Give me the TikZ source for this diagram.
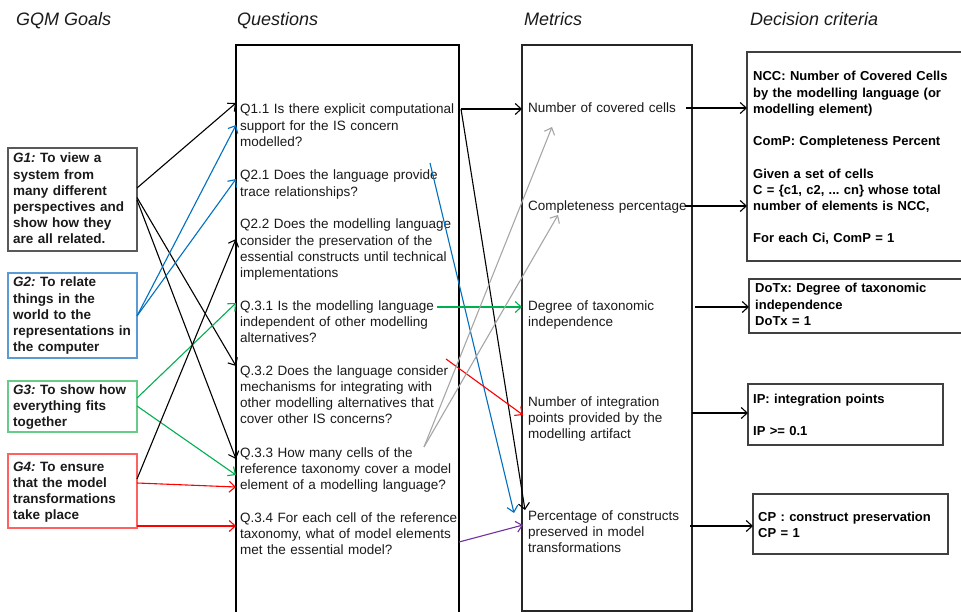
\documentclass[tikz,border=0pt]{standalone}
\usepackage{fontspec}
\setmainfont{Liberation Sans}
\usetikzlibrary{arrows.meta,calc}
\frenchspacing

\definecolor{arrblue}{HTML}{0070C0}
\definecolor{arrgreen}{HTML}{00B050}
\definecolor{arrred}{HTML}{FF0000}
\definecolor{arrpurple}{HTML}{7030A0}
\definecolor{arrgray}{HTML}{A6A6A6}
\definecolor{gedgeA}{HTML}{595959}
\definecolor{gedgeB}{HTML}{5B9BD5}
\definecolor{gedgeC}{HTML}{66CC88}
\definecolor{gedgeD}{HTML}{FF6060}
\definecolor{dedge}{HTML}{404040}
\definecolor{ink}{HTML}{1A1A1A}

\begin{document}
\begin{tikzpicture}[x=1pt,y=-1pt,
  arr/.style={-{Straight Barb[length=6pt,width=11pt]}, line width=1.1pt},
  frame/.style={rectangle, inner sep=0pt, outer sep=0pt, line width=1.2pt, anchor=north west},
  header/.style={font=\fontsize{18}{21}\selectfont\itshape, inner sep=0pt, anchor=base west, text=ink},
  gtext/.style={font=\fontsize{13.5}{16.1}\selectfont\bfseries, text width=130pt, align=left, inner sep=0pt, anchor=base west, text=ink},
  qtext/.style={font=\fontsize{13.5}{16.2}\selectfont, text width=225pt, align=left, inner sep=0pt, anchor=base west, text=ink},
  dtext/.style={font=\fontsize{13}{16.2}\selectfont\bfseries, text width=215pt, align=left, inner sep=0pt, anchor=base west, text=black}]

\useasboundingbox (0,0) rectangle (961,612);
\fill[white] (0,0) rectangle (961,612);

% column headings
\node[header] (hgoals) at (16,26) {GQM Goals};
\node[header] (hquest) at (237,26) {Questions};
\node[header] (hmetr)  at (524,26) {Metrics};
\node[header] (hdec)   at (750,26) {Decision criteria};

% frames
\node[frame, draw=gedgeA, minimum width=129pt, minimum height=103pt] (g1) at (8,148) {};
\node[frame, draw=gedgeB, minimum width=129pt, minimum height=85pt]  (g2) at (8,273) {};
\node[frame, draw=gedgeC, minimum width=129pt, minimum height=51pt]  (g3) at (8,381) {};
\node[frame, draw=gedgeD, minimum width=129pt, minimum height=74pt]  (g4) at (8,454) {};
\node[frame, draw=black, minimum width=223pt, minimum height=580pt] (qbox) at (236,45) {};
\node[frame, draw=black!85, minimum width=170pt, minimum height=566pt] (mbox) at (522,45) {};
\node[frame, draw=dedge, minimum width=216pt, minimum height=209pt] (d1) at (747,52) {};
\node[frame, draw=dedge, minimum width=214pt, minimum height=54pt]  (d2) at (749,279) {};
\node[frame, draw=dedge, minimum width=195pt, minimum height=61pt]  (d3) at (748,384) {};
\node[frame, draw=dedge, minimum width=195pt, minimum height=60pt]  (d4) at (753,494) {};

% goals
\node[gtext] (g1t) at (13,163) {\textit{G1:} To view a\\system from\\many different\\perspectives and\\show how they\\are all related.};
\node[gtext] (g2t) at (13,287) {\textit{G2:} To relate\\things in the\\world to the\\representations in\\the computer};
\node[gtext] (g3t) at (13,394) {\textit{G3:} To show how\\everything fits\\together};
\node[gtext] (g4t) at (13,471) {\textit{G4:} To ensure\\that the model\\transformations\\take place};

% questions
\node[qtext] (q11) at (240,114) {Q1.1 Is there explicit computational\\support for the IS concern\\modelled?};
\node[qtext] (q21) at (240,180) {Q2.1 Does the language provide\\trace relationships?};
\node[qtext] (q22) at (240,229) {Q2.2 Does the modelling language\\consider the preservation of the\\essential constructs until technical\\implementations};
\node[qtext] (q31) at (240,310) {Q.3.1 Is the modelling language\\independent of other modelling\\alternatives?};
\node[qtext] (q32) at (240,375) {Q.3.2 Does the language consider\\mechanisms for integrating with\\other modelling alternatives that\\cover other IS concerns?};
\node[qtext] (q33) at (240,457) {Q.3.3 How many cells of the\\reference taxonomy cover a model\\element of a modelling language?};
\node[qtext] (q34) at (240,522) {Q.3.4 For each cell of the reference\\taxonomy, what of model elements\\met the essential model?};

% metrics
\node[qtext] (m1) at (528,113) {Number of covered cells};
\node[qtext] (m2) at (528,211) {Completeness percentage};
\node[qtext] (m3) at (528,310) {Degree of taxonomic\\independence};
\node[qtext] (m4) at (528,406) {Number of integration\\points provided by the\\modelling artifact};
\node[qtext] (m5) at (528,520) {Percentage of constructs\\preserved in model\\transformations};

% decision criteria
\node[dtext] (d1t) at (753,81) {NCC: Number of Covered Cells\\by the modelling language (or\\modelling element)\\[16.2pt]ComP: Completeness Percent\\[16.2pt]Given a set of cells\\C = \{c1, c2, ... cn\} whose total\\number of elements is NCC,\\[16.2pt]For each Ci, ComP = 1};
\node[dtext] (d2t) at (755,293) {DoTx: Degree of taxonomic\\independence\\DoTx = 1};
\node[dtext] (d3t) at (753,403) {IP: integration points\\[16.2pt]IP >= 0.1};
\node[dtext] (d4t) at (758,521) {CP : construct preservation\\CP = 1};

% goals -> questions
\draw[arr, black] ($(g1.east)+(0,-11.5)$) -- ($(qbox.west |- q11.base)+(0,-11)$);
\draw[arr, black] ($(g1.east)+(0,-2)$) -- ($(qbox.west |- q32.base)+(0,-9)$);
\draw[arr, black] ($(g1.east)+(0,0.5)$) -- ($(qbox.west |- q33.base)+(0,2)$);
\draw[arr, arrblue] ($(g2.east)+(0,0.5)$) -- ($(qbox.west |- q11.base)+(0,11)$);
\draw[arr, arrblue] ($(g2.east)+(0,0.5)$) -- ($(qbox.west |- q21.base)+(0,-1)$);
\draw[arr, arrgreen] ($(g3.east)+(0,-8.5)$) -- ($(qbox.west |- q31.base)+(0,-7)$);
\draw[arr, arrgreen] ($(g3.east)+(0,-0.5)$) -- ($(qbox.west |- q33.base)+(0,18)$);
\draw[arr, black] ($(g4.east)+(0,-12)$) -- ($(qbox.west |- q22.base)+(0,10)$);
\draw[arr, arrred] ($(g4.east)+(0,-8)$) -- ($(qbox.west |- q33.base)+(0,30)$);
\draw[arr, arrred] ($(g4.east)+(0,35)$) -- ($(qbox.west |- q34.base)+(0,4)$);

% questions -> metrics
\coordinate (q11out) at ($(qbox.east |- q11.base)+(2,-5)$);
\coordinate (q21src) at ($(q21.base west)+(190,-17)$);
\coordinate (q32src) at ($(q32.base west)+(206,-16)$);
\coordinate (q33src) at ($(q33.base west)+(184,-10)$);
\draw[arr, black] (q11out) -- ($(mbox.west |- m1.base)+(0,-4)$);
\draw[arr, black] (q11out) -- ($(mbox.west |- m5.base)+(3,-10)$);
\draw[arr, arrblue] (q21src) -- ($(mbox.west |- m5.base)+(-8,-7)$);
\draw[arr, arrgreen] ($(qbox.east |- q31.base)+(-22,-3)$) -- ($(mbox.west |- m3.base)+(0,-3)$);
\draw[arr, arrred] (q32src) -- ($(mbox.west |- m4.base)+(1,9)$);
\draw[arr, arrgray] (q33src) -- ($(m1.base west)+(24,14)$);
\draw[arr, arrgray] (q33src) -- ($(m2.base west)+(30,4)$);
\draw[arr, arrpurple] ($(qbox.east |- q34.base)+(0,20)$) -- ($(mbox.west |- m5.base)+(1,5)$);

% metrics -> decision criteria
\draw[arr, black] ($(mbox.east |- m1.base)+(-6,-5)$) -- ($(d1.west |- m1.base)+(0,-5)$);
\draw[arr, black] ($(mbox.east |- m2.base)+(-7,-5)$) -- ($(d1.west |- m2.base)+(0,-5)$);
\draw[arr, black] ($(mbox.east |- m3.base)+(3,-3)$) -- ($(d2.west |- m3.base)+(0,-3)$);
\draw[arr, black] ($(mbox.east |- m4.base)+(0,7)$) -- ($(d3.west |- m4.base)+(0,7)$);
\draw[arr, black] ($(mbox.east |- m5.base)+(-2,6)$) -- ($(d4.west |- m5.base)+(0,6)$);
\end{tikzpicture}
\end{document}
